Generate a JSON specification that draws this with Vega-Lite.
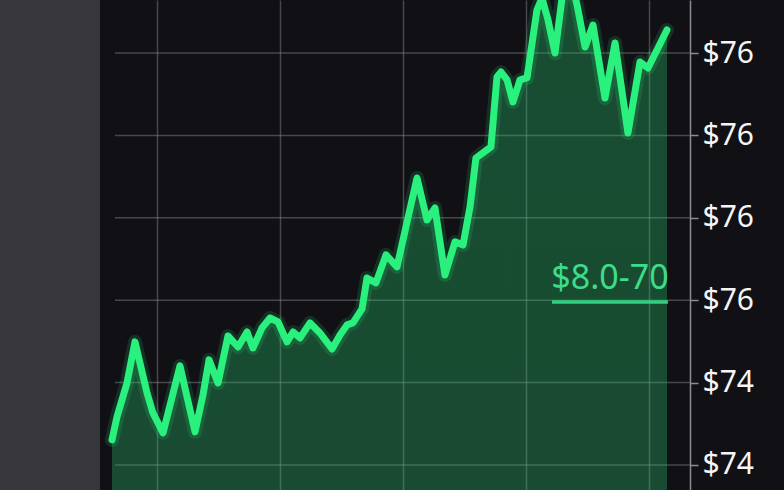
{
  "$schema": "https://vega.github.io/schema/vega-lite/v6.json",
  "autosize": {"type": "none"},
  "padding": {"left": 100, "top": 0, "right": 0, "bottom": 0},
  "width": 684,
  "height": 490,
  "background": "#37363b",
  "config": {
    "view": {"fill": "#111115", "stroke": null},
    "font": "Noto Sans"
  },
  "datasets": {
    "price": [
      {"t": 6.34, "v": 74.152}, {"t": 6.75, "v": 74.292}, {"t": 7.56, "v": 74.498}, {"t": 8.21, "v": 74.747},
      {"t": 9.19, "v": 74.437}, {"t": 9.67, "v": 74.316}, {"t": 10.49, "v": 74.195}, {"t": 11.87, "v": 74.601},
      {"t": 13.09, "v": 74.201}, {"t": 13.74, "v": 74.425}, {"t": 14.23, "v": 74.638}, {"t": 14.96, "v": 74.498},
      {"t": 15.77, "v": 74.783}, {"t": 16.59, "v": 74.716}, {"t": 17.32, "v": 74.807}, {"t": 17.80, "v": 74.710},
      {"t": 18.54, "v": 74.832}, {"t": 19.19, "v": 74.892}, {"t": 19.84, "v": 74.868}, {"t": 20.57, "v": 74.747},
      {"t": 21.06, "v": 74.807}, {"t": 21.63, "v": 74.771}, {"t": 22.44, "v": 74.862}, {"t": 23.25, "v": 74.801},
      {"t": 24.23, "v": 74.704}, {"t": 24.88, "v": 74.789}, {"t": 25.45, "v": 74.850}, {"t": 25.93, "v": 74.862},
      {"t": 26.67, "v": 74.947}, {"t": 27.07, "v": 75.135}, {"t": 27.80, "v": 75.105}, {"t": 28.62, "v": 75.275},
      {"t": 29.51, "v": 75.202}, {"t": 30.33, "v": 75.475}, {"t": 31.14, "v": 75.742}, {"t": 31.95, "v": 75.487},
      {"t": 32.60, "v": 75.560}, {"t": 33.41, "v": 75.153}, {"t": 34.23, "v": 75.354}, {"t": 34.88, "v": 75.335},
      {"t": 35.45, "v": 75.566}, {"t": 35.93, "v": 75.863}, {"t": 36.83, "v": 75.912}, {"t": 37.15, "v": 75.930},
      {"t": 37.64, "v": 76.355}, {"t": 37.97, "v": 76.385}, {"t": 38.46, "v": 76.337}, {"t": 38.94, "v": 76.203},
      {"t": 39.51, "v": 76.337}, {"t": 40.08, "v": 76.349}, {"t": 40.89, "v": 76.761}, {"t": 41.30, "v": 76.834},
      {"t": 41.79, "v": 76.701}, {"t": 42.36, "v": 76.500}, {"t": 42.93, "v": 76.834}, {"t": 43.58, "v": 76.974},
      {"t": 44.15, "v": 76.792}, {"t": 44.80, "v": 76.537}, {"t": 45.45, "v": 76.670}, {"t": 46.42, "v": 76.227},
      {"t": 47.24, "v": 76.561}, {"t": 48.29, "v": 76.015}, {"t": 49.27, "v": 76.446}, {"t": 49.92, "v": 76.409},
      {"t": 51.46, "v": 76.640}
    ],
    "grid": [
      {"g": 74.0}, {"g": 74.5}, {"g": 75.0}, {"g": 75.5}, {"g": 76.0}, {"g": 76.5}
    ]
  },
  "layer": [
    {
      "data": {"name": "grid"},
      "mark": {"type": "rule", "stroke": "#8a8a90", "strokeOpacity": 0.45, "strokeWidth": 1.5},
      "encoding": {
        "x": {"datum": 6.58, "type": "quantitative", "scale": {"domain": [5.366, 60.976], "nice": false, "zero": false},
              "axis": {"values": [10, 20, 30, 40, 50], "grid": true, "gridColor": "#8a8a90", "gridOpacity": 0.45, "gridWidth": 1.5,
                       "labels": false, "ticks": false, "domain": false, "title": null}},
        "x2": {"datum": 53.33},
        "y": {"field": "g", "type": "quantitative",
              "scale": {"domain": [73.848, 76.822], "nice": false, "zero": false},
              "axis": {"orient": "right", "offset": -94, "values": [74, 74.5, 75, 75.5, 76, 76.5],
                       "labelExpr": "datum.value < 74.9 ? '$74' : '$76'", "grid": false,
                       "domainColor": "#8c8c92", "domainWidth": 1.5, "tickColor": "#8c8c92", "tickSize": 8, "tickWidth": 1.5,
                       "labelColor": "#f5f5f5", "labelFontSize": 30, "labelFont": "Noto Sans", "labelPadding": 4,
                       "labelFlush": false, "labelOverlap": false, "title": null}}
      }
    },
    {
      "data": {"name": "price"},
      "mark": {"type": "area", "clip": true, "interpolate": "linear",
               "fill": {"gradient": "linear", "x1": 0, "y1": 0, "x2": 0, "y2": 1,
                        "stops": [{"offset": 0, "color": "rgba(40,200,110,0.33)"}, {"offset": 1, "color": "rgba(40,200,110,0.07)"}]}},
      "encoding": {
        "x": {"field": "t", "type": "quantitative"},
        "y": {"field": "v", "type": "quantitative"}
      }
    },
    {
      "data": {"name": "price"},
      "mark": {"type": "line", "clip": true, "stroke": "#2af07e", "strokeWidth": 14, "strokeOpacity": 0.14, "strokeJoin": "round", "strokeCap": "round"},
      "encoding": {
        "x": {"field": "t", "type": "quantitative"},
        "y": {"field": "v", "type": "quantitative"}
      }
    },
    {
      "data": {"name": "price"},
      "mark": {"type": "line", "clip": true, "stroke": "#2af07e", "strokeWidth": 7, "strokeJoin": "round", "strokeCap": "round"},
      "encoding": {
        "x": {"field": "t", "type": "quantitative"},
        "y": {"field": "v", "type": "quantitative"}
      }
    },
    {
      "data": {"values": [{"note": "$8.0-70"}]},
      "mark": {"type": "rule", "stroke": "#2fd07f", "strokeWidth": 3.5},
      "encoding": {
        "x": {"datum": 42.11, "type": "quantitative"},
        "x2": {"datum": 51.54},
        "y": {"datum": 74.989, "type": "quantitative"}
      }
    },
    {
      "data": {"values": [{"note": "$8.0-70"}]},
      "mark": {"type": "text", "color": "#3ddc8a", "fontSize": 34, "font": "Noto Sans", "align": "center", "baseline": "alphabetic"},
      "encoding": {
        "x": {"datum": 46.83, "type": "quantitative"},
        "y": {"datum": 75.068, "type": "quantitative"},
        "text": {"field": "note"}
      }
    }
  ]
}
